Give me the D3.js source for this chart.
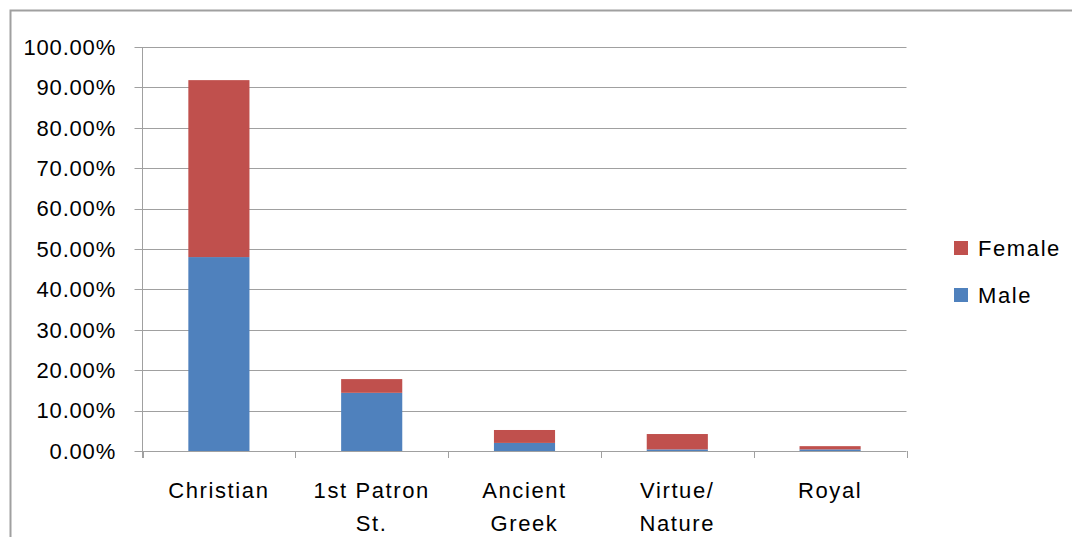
<!DOCTYPE html>
<html><head><meta charset="utf-8">
<script src="https://cdn.jsdelivr.net/npm/d3@7"></script>
<style>
html,body{margin:0;padding:0;background:#fff;}
svg{display:block;}
text{font-family:"Liberation Sans",Arial,sans-serif;fill:#000;}
</style></head>
<body><svg id="chart" width="1072" height="537"></svg>
<script>
const categories = [["Christian"], ["1st Patron", "St."], ["Ancient", "Greek"], ["Virtue/", "Nature"], ["Royal"]];
const maleValues = [48.0, 14.4, 2.0, 0.4, 0.4];
const femaleValues = [43.8, 3.4, 3.2, 3.8, 0.8];
const yTicks = [0, 10, 20, 30, 40, 50, 60, 70, 80, 90, 100];
const seriesNames = ["Male", "Female"];
const colors = {Male: "#4f81bd", Female: "#c0504d"};

(function() {
const svg = d3.select("#chart");
// outer chart border
svg.append("rect").attr("x", 10.5).attr("y", 10.5).attr("width", 1100).attr("height", 600)
  .attr("fill", "none").attr("stroke", "#a0a0a0").attr("stroke-width", 2);

const pLeft = 142.5, pRight = 906.5, pTop = 47, pBottom = 451;
const x = d3.scaleBand().domain(d3.range(categories.length)).range([pLeft, pRight]).paddingInner(0.6).paddingOuter(0.3);
const xb = d3.scaleBand().domain(d3.range(categories.length)).range([pLeft, pRight]);
const y = d3.scaleLinear().domain([0, 100]).range([pBottom, pTop]);

// gridlines
svg.append("g").selectAll("line").data(yTicks).join("line")
  .attr("x1", pLeft - 8).attr("x2", pRight)
  .attr("y1", d => Math.round(y(d)) + 0.5).attr("y2", d => Math.round(y(d)) + 0.5)
  .attr("stroke", "#a0a0a0").attr("stroke-width", 1);

// y axis labels
svg.append("g").selectAll("text").data(yTicks).join("text")
  .attr("x", 116).attr("y", d => y(d) + 7.8)
  .attr("text-anchor", "end").attr("font-size", 22).attr("letter-spacing", 0.8)
  .text(d => d.toFixed(2) + "%");

// stacked bars
const rows = categories.map((c, i) => ({i, Male: maleValues[i], Female: femaleValues[i]}));
const stack = d3.stack().keys(seriesNames)(rows);
svg.append("g").selectAll("g").data(stack).join("g")
  .attr("fill", s => colors[s.key])
  .selectAll("rect").data(s => s).join("rect")
  .attr("x", d => x(d.data.i)).attr("width", x.bandwidth())
  .attr("y", d => y(d[1])).attr("height", d => y(d[0]) - y(d[1]));

// axes lines
svg.append("line").attr("x1", pLeft).attr("x2", pLeft).attr("y1", pTop).attr("y2", pBottom + 7)
  .attr("stroke", "#a0a0a0").attr("stroke-width", 1);
svg.append("g").selectAll("line").data(d3.range(categories.length + 1)).join("line")
  .attr("x1", d => Math.round(pLeft + d * xb.step()) + 0.5).attr("x2", d => Math.round(pLeft + d * xb.step()) + 0.5)
  .attr("y1", pBottom).attr("y2", pBottom + 7)
  .attr("stroke", "#a0a0a0").attr("stroke-width", 1);

// category labels
const lbl = svg.append("g").selectAll("text").data(categories).join("text")
  .attr("text-anchor", "middle").attr("font-size", 22).attr("letter-spacing", 1.6);
lbl.each(function(lines, i) {
  const t = d3.select(this);
  lines.forEach((ln, k) => {
    t.append("tspan").attr("x", xb(i) + xb.bandwidth() / 2).attr("y", 498 + k * 33).text(ln);
  });
});

// legend
const legend = [{name: "Female", y: 241}, {name: "Male", y: 288}];
const lg = svg.append("g").selectAll("g").data(legend).join("g");
lg.append("rect").attr("x", 954).attr("y", d => d.y).attr("width", 14).attr("height", 14)
  .attr("fill", d => colors[d.name]);
lg.append("text").attr("x", 978).attr("y", d => d.y + 15).attr("font-size", 22).attr("letter-spacing", 1.6)
  .text(d => d.name);
})();
</script></body></html>
